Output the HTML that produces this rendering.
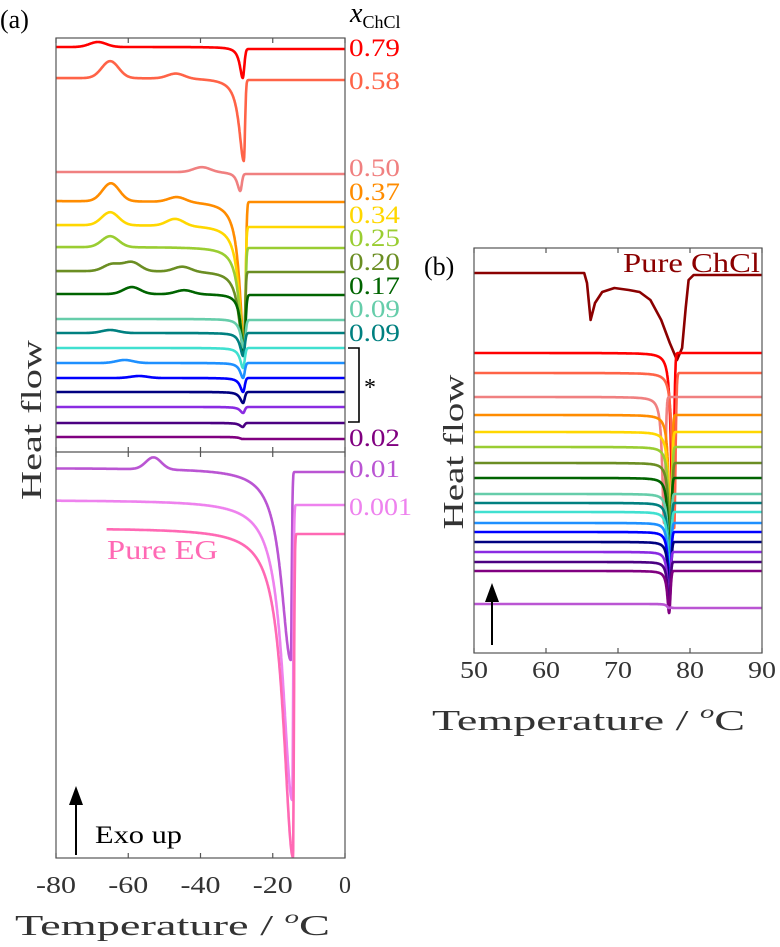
<!DOCTYPE html>
<html><head><meta charset="utf-8">
<style>
html,body{margin:0;padding:0;background:#fff;}
svg{display:block;font-family:"Liberation Serif",serif;}
</style></head>
<body>
<svg id="chart" width="780" height="947" viewBox="0 0 780 947" xmlns="http://www.w3.org/2000/svg">
  <g id="panelA"></g>
  <g id="panelB"></g>
  <text x="0" y="28" font-size="26">(a)</text>
  <text x="424" y="275" font-size="26">(b)</text>
  <text x="350" y="22" font-size="28" font-style="italic">x<tspan font-size="18" font-style="normal" dy="6">ChCl</tspan></text>
  <text transform="translate(41,420) rotate(-90)" text-anchor="middle" font-size="29" fill="#333" textLength="160" lengthAdjust="spacingAndGlyphs">Heat flow</text>
  <text transform="translate(463,452) rotate(-90)" text-anchor="middle" font-size="29" fill="#333" textLength="155" lengthAdjust="spacingAndGlyphs">Heat flow</text>
  <text x="15" y="935" font-size="29" fill="#333" textLength="315" lengthAdjust="spacingAndGlyphs">Temperature / <tspan font-style="italic" font-size="18" dy="-12">o</tspan><tspan dy="12">C</tspan></text>
  <text x="432" y="730" font-size="29" fill="#333" textLength="313" lengthAdjust="spacingAndGlyphs">Temperature / <tspan font-style="italic" font-size="18" dy="-12">o</tspan><tspan dy="12">C</tspan></text>
  <text x="107" y="559" font-size="27" fill="#ff69b4" textLength="111" lengthAdjust="spacingAndGlyphs">Pure EG</text>
  <text x="623" y="272" font-size="27" fill="#8b0000" textLength="137" lengthAdjust="spacingAndGlyphs">Pure ChCl</text>
  <text x="95" y="843" font-size="25" textLength="87" lengthAdjust="spacingAndGlyphs">Exo up</text>
  <g>
    <line x1="76" y1="855" x2="76" y2="800" stroke="#000" stroke-width="2"/>
    <polygon points="76,786 69,805 83,805" fill="#000"/>
  </g>
  <g>
    <line x1="492" y1="645" x2="492" y2="596" stroke="#000" stroke-width="2"/>
    <polygon points="492,583 485,602 499,602" fill="#000"/>
  </g>
  <g>
    <polyline points="348,348 359,348 359,422 348,422" fill="none" stroke="#000" stroke-width="1.6"/>
    <text x="364" y="395" font-size="24">*</text>
  </g>
</svg>
<script>
// ---------- DATA ----------
const aTicks = [-80, -60, -40, -20, 0];
const bTicks = [50, 60, 70, 80, 90];
const aColors  = ["#ff0000","#ff6347","#f08080","#ff8c00","#ffd700","#9acd32","#6b8e23","#006400","#66cdaa","#008080","#40e0d0","#1e90ff","#0000ff","#000080","#8a2be2","#4b0082","#800080"];
const aLeft    = [-9,-40,-134,-163,-187,-209,-233,-256,-281,-295,-310,-325,-340,-354,-369,-385,-399];
const aRight   = [-11,-42,-136,-164,-189,-210,-234,-257,-282,-295,-310,-325,-340,-354,-369,-385,-401];
const aDipT    = [-28.3,-28.0,-29.0,-27.8,-27.9,-27.9,-28.0,-28.0,-28.0,-28.2,-28.2,-28.2,-28.2,-28.2,-28.2,-28.3,-28.3];
const aDipV    = [-40,-123,-153,-312,-314,-312,-314,-314,-310,-318,-330,-340,-354,-365,-375,-389,-401];
const aBumpT   = [[-68.4],[-65,-46.8],[-39.6],[-64.8,-46.5],[-65,-47],[-65],[-64.5,-59,-45],[-59,-44.5],[],[-65],[],[-61],[-57],[],[],[],[]];
const aBumpH   = [[5],[17,5],[5],[18,5],[13,7],[11],[7,9,5],[7,4],[],[3],[],[3],[2],[],[],[],[]];
const lowLeft  = [-430,-462,-490];
const lowRight = [-434,-467,-496];
const lowDipT  = [-15.0,-14.6,-14.4];
const lowDipV  = [-622,-762,-819];
const lowStart = [-80,-80,-66];
const lowColors= ["#ba55d3","#ee82ee","#ff69b4"];
const lowLabels= ["0.01","0.001",""];
const lowBumpT = [[-53],[],[]];
const lowBumpH = [[12],[],[]];
const upLabels = ["0.79","0.58","0.50","0.37","0.34","0.25","0.20","0.17","0.09","0.09","","","","","","","0.02"];
const upLabelY = [47,80,167,191,214,237,261,285,308,332,0,0,0,0,0,0,437];
const bColors = ["#ff0000","#ff6347","#f08080","#ff8c00","#ffd700","#9acd32","#6b8e23","#006400","#66cdaa","#008080","#40e0d0","#1e90ff","#0000ff","#000080","#8a2be2","#4b0082","#800080","#ba55d3"];
const bLeft   = [-105,-125,-149,-167,-184,-199,-215,-230,-246,-255,-264,-275,-284,-294,-304,-314,-323,-356];
const bRight  = [-105,-125,-149,-167,-184,-199,-215,-230,-246,-255,-264,-275,-284,-294,-304,-314,-323,-360];
const bDipT   = [77.6,77.8,76.4,77.3,77.3,77.3,77.3,77.2,77.2,77.2,77.2,77.2,77.2,77.2,77.1,77.1,77.1,77.1];
const bDipV   = [-267,-280,-275,-290,-300,-305,-310,-315,-320,-325,-330,-335,-340,-345,-350,-355,-365,-360];
const chclT = [50,65.3,65.7,66.2,66.8,67.8,69.5,71.5,73,74.5,76,77.2,78.2,78.9,79.4,79.8,80.5,90];
const chclV = [-25,-25,-35,-72,-55,-44,-40,-42,-44,-52,-72,-95,-112,-100,-60,-32,-27,-27];

// ---------- SCALES ----------
const A = {x0:56, x1:345, top:38, mid:452, bot:858, t0:-80, t1:0};
const B = {x0:474, x1:762, top:248, bot:653, t0:50, t1:90};
const ax = t => A.x0 + (t - A.t0) / (A.t1 - A.t0) * (A.x1 - A.x0);
const ay = v => A.top - v;
const bx = t => B.x0 + (t - B.t0) / (B.t1 - B.t0) * (B.x1 - B.x0);
const by = v => B.top - v;

const NS = "http://www.w3.org/2000/svg";
function mk(tag, attrs, parent){
  const e = document.createElementNS(NS, tag);
  for (const k in attrs) e.setAttribute(k, attrs[k]);
  parent.appendChild(e); return e;
}
function curve(t, yl, yr, td, dv, wl, wr, bt, bh, bw){
  const s = 1/(1+Math.exp(-(t-td)/0.15));
  const base = yl + (yr-yl)*s;
  const dx = t - td;
  let shape = dx < 0 ? 1/(1+(dx/wl)*(dx/wl)) : Math.exp(-(dx/wr)*(dx/wr));
  let v = base + (dv - base)*shape;
  for (let i=0;i<bt.length;i++){ const d=(t-bt[i])/bw; v += bh[i]*Math.exp(-d*d); }
  return v;
}
function pathFrom(pts){ return pts.map((p,i)=>(i?"L":"M")+p[0].toFixed(1)+","+p[1].toFixed(1)).join(""); }

const gA = document.getElementById("panelA");
const gB = document.getElementById("panelB");

for (let i=0;i<aColors.length;i++){
  const pts=[];
  for (let t=A.t0; t<=A.t1+1e-9; t+=0.1){
    const big = Math.abs(aDipV[i]-aLeft[i]) > 60;
    pts.push([ax(t), ay(curve(t,aLeft[i],aRight[i],aDipT[i],aDipV[i], big?1.6:1.0, big?0.45:0.6, aBumpT[i],aBumpH[i],3.3))]);
  }
  const p = mk("path",{d:pathFrom(pts),fill:"none",stroke:aColors[i],"stroke-width":2.6,"stroke-linejoin":"round"},gA);
  
  
  if (upLabels[i]){
    const tx = mk("text",{x:349,y:upLabelY[i]+9,"font-size":25,fill:aColors[i],textLength:51,lengthAdjust:"spacingAndGlyphs"},gA);
    tx.textContent = upLabels[i];
    
    
  }
}
const lowLabelY=[468,506];
const lowLabelW=[51,63];
for (let i=0;i<3;i++){
  const pts=[];
  for (let t=lowStart[i]; t<=A.t1+1e-9; t+=0.05){
    pts.push([ax(t), ay(curve(t,lowLeft[i],lowRight[i],lowDipT[i],lowDipV[i],3.2,0.35,lowBumpT[i],lowBumpH[i],3))]);
  }
  const p = mk("path",{d:pathFrom(pts),fill:"none",stroke:lowColors[i],"stroke-width":2.6,"stroke-linejoin":"round"},gA);
  
  
  if (lowLabels[i]){
    const tx = mk("text",{x:349,y:lowLabelY[i]+9,"font-size":25,fill:lowColors[i],textLength:lowLabelW[i],lengthAdjust:"spacingAndGlyphs"},gA);
    tx.textContent = lowLabels[i];
    
    
  }
}
const boxA = mk("rect",{x:A.x0,y:A.top,width:A.x1-A.x0,height:A.bot-A.top,fill:"none",stroke:"#555","stroke-width":1.2},gA);


const divA = mk("line",{x1:A.x0,y1:A.mid,x2:A.x1,y2:A.mid,stroke:"#555","stroke-width":1.2},gA);


aTicks.forEach(t=>{
  const x=ax(t);
  [[A.top,A.top+5],[A.mid,A.mid-5],[A.mid,A.mid+5],[A.bot,A.bot-5]].forEach(s=>{
    const l = mk("line",{x1:x,y1:s[0],x2:x,y2:s[1],stroke:"#555","stroke-width":1.2},gA);
    
    
  });
  const tx = mk("text",{x:x,y:893,"text-anchor":"middle","font-size":24,fill:"#333"},gA);
  tx.textContent = t;
  if (t !== 0) { tx.setAttribute('textLength', 40); tx.setAttribute('lengthAdjust','spacingAndGlyphs'); }
  
  
});

{
  const pts = chclT.map((t,i)=>[bx(t),by(chclV[i])]);
  const p = mk("path",{d:pathFrom(pts),fill:"none",stroke:"#8b0000","stroke-width":2.6,"stroke-linejoin":"round"},gB);
  
  
}
for (let i=0;i<bColors.length;i++){
  const pts=[];
  for (let t=B.t0; t<=B.t1+1e-9; t+=0.02){
    pts.push([bx(t), by(curve(t,bLeft[i],bRight[i],bDipT[i],bDipV[i],0.3,0.25,[],[],1))]);
  }
  const p = mk("path",{d:pathFrom(pts),fill:"none",stroke:bColors[i],"stroke-width":2.6,"stroke-linejoin":"round"},gB);
  
  
}
const boxB = mk("rect",{x:B.x0,y:B.top,width:B.x1-B.x0,height:B.bot-B.top,fill:"none",stroke:"#555","stroke-width":1.2},gB);


bTicks.forEach(t=>{
  const x=bx(t);
  [[B.top,B.top+5],[B.bot,B.bot-5]].forEach(s=>{
    const l = mk("line",{x1:x,y1:s[0],x2:x,y2:s[1],stroke:"#555","stroke-width":1.2},gB);
    
    
  });
  const tx = mk("text",{x:x,y:678,"text-anchor":"middle","font-size":24,fill:"#333",textLength:28,lengthAdjust:"spacingAndGlyphs"},gB);
  tx.textContent = t;
  
  
});
</script>
</body></html>
